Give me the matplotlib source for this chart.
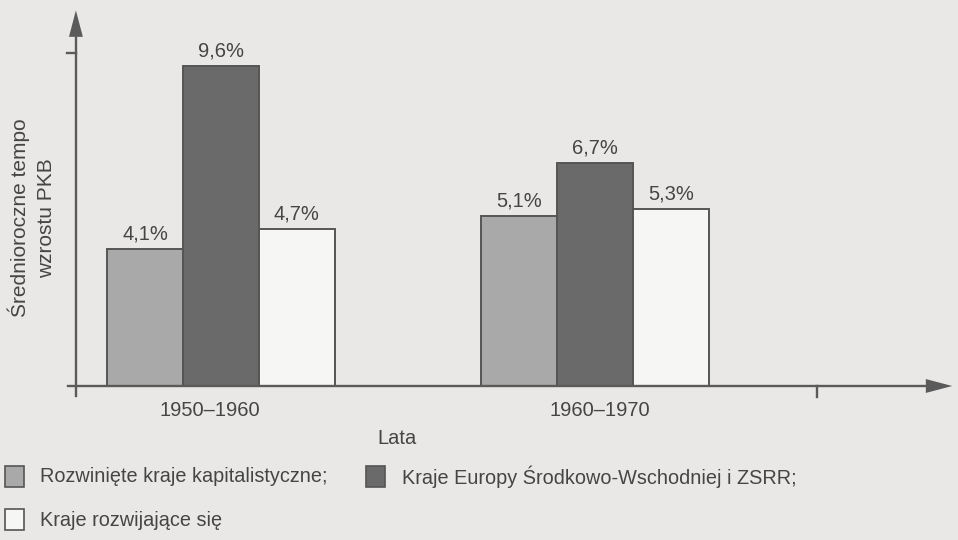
import matplotlib.pyplot as plt
from matplotlib.patches import Rectangle

# dane: średnie roczne tempo wzrostu PKB (%)
okresy = ['1950–1960', '1960–1970']
kapitalistyczne = [4.1, 5.1]
europa_wsch = [9.6, 6.7]
rozwijajace = [4.7, 5.3]
etykiety_serii = ['Rozwinięte kraje kapitalistyczne;',
                  'Kraje Europy Środkowo-Wschodniej i ZSRR;',
                  'Kraje rozwijające się']

kolory = ['#a9a9a9', '#6a6a6a', '#f6f6f5']
krawedz = '#555555'
tekst = '#454545'
tlo = '#e9e8e6'

plt.rcParams['font.family'] = ['Liberation Sans', 'DejaVu Sans']

W, H = 958, 540
fig = plt.figure(figsize=(W / 100, H / 100), dpi=100, facecolor=tlo)
ax = fig.add_axes([0, 0, 1, 1])
ax.set_facecolor(tlo)
ax.set_xlim(-0.591, 1.971)
ax.set_ylim(-4.62, 11.58)
ax.axis('off')

szer = 0.203
serie = [kapitalistyczne, europa_wsch, rozwijajace]
for i, wartosci in enumerate(serie):
    xs = [g + (i - 1) * szer for g in range(len(okresy))]
    ax.bar(xs, wartosci, width=szer, color=kolory[i], edgecolor=krawedz,
           linewidth=1.4, zorder=2)
    for x, v in zip(xs, wartosci):
        ax.text(x, v + 0.17, f'{v:.1f}%'.replace('.', ','), ha='center',
                va='bottom', fontsize=14.5, color=tekst)

# osie ze strzałkami
os_kolor = '#5a5a5a'
x0 = -0.388
ax.plot([x0, x0], [-0.3, 10.5], color=os_kolor, lw=1.7, zorder=3)
ax.annotate('', xy=(x0, 11.35), xytext=(x0, 10.3),
            arrowprops=dict(arrowstyle='-|>,head_length=19,head_width=5',
                            mutation_scale=1, color=os_kolor, lw=0))
ax.plot([-0.41, 1.9], [0, 0], color=os_kolor, lw=1.7, zorder=3)
ax.annotate('', xy=(1.963, 0), xytext=(1.85, 0),
            arrowprops=dict(arrowstyle='-|>,head_length=19,head_width=5',
                            mutation_scale=1, color=os_kolor, lw=0))
ax.plot([-0.413, x0], [10, 10], color=os_kolor, lw=1.7)
ax.plot([1.594, 1.594], [0, -0.33], color=os_kolor, lw=1.7)

# podpisy okresów
for g, (okres, dx) in enumerate(zip(okresy, [-0.03, 0.013])):
    ax.text(g + dx, -0.75, okres, ha='center', va='center', fontsize=14.5,
            color=tekst)

fig.text(397 / W, 1 - 439 / H, 'Lata', ha='center', va='center',
         fontsize=14.5, color=tekst)
fig.text(32 / W, 1 - 218 / H, 'Średnioroczne tempo\nwzrostu PKB',
         rotation=90, ha='center', va='center', fontsize=15,
         color=tekst, linespacing=1.5)

# legenda
legenda = [(5, 466, 40), (366, 466, 402), (5, 509, 40)]
for (bx, by, tx), kolor, opis in zip(legenda, kolory, etykiety_serii):
    fig.add_artist(Rectangle((bx / W, 1 - (by + 21) / H), 19 / W, 21 / H,
                             transform=fig.transFigure, facecolor=kolor,
                             edgecolor=krawedz, linewidth=1.2))
    fig.text(tx / W, 1 - (by + 11) / H, opis, ha='left', va='center',
             fontsize=14.3, color=tekst)

fig.savefig('out.png', dpi=100, facecolor=tlo)
